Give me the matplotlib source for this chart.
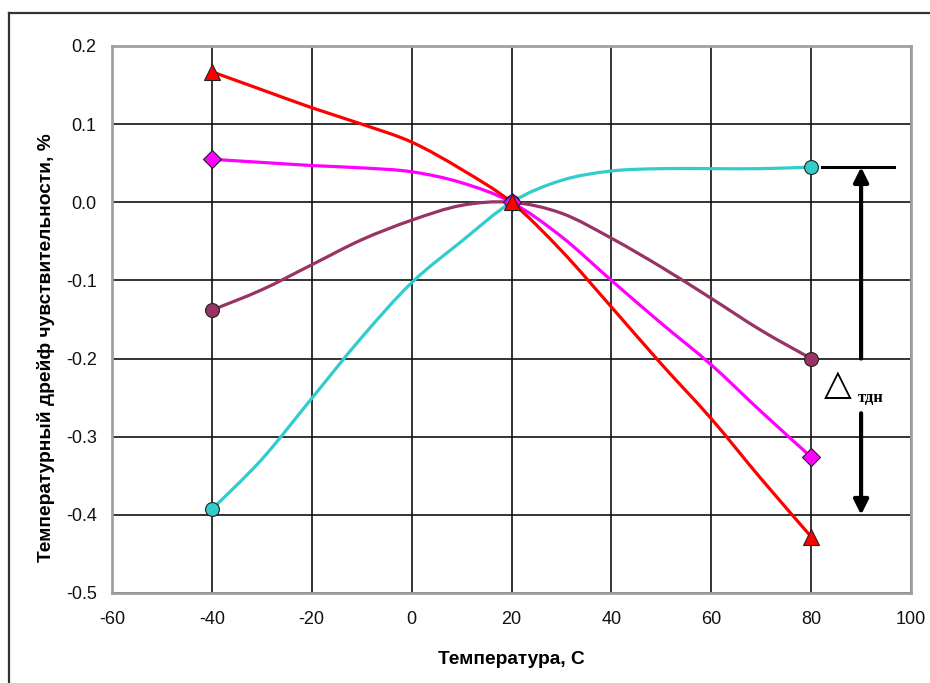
import numpy as np
import matplotlib.pyplot as plt
from matplotlib.path import Path
from matplotlib.patches import PathPatch
from matplotlib.lines import Line2D

plt.rcParams['font.family'] = ['Liberation Sans', 'DejaVu Sans']
plt.rcParams['axes.unicode_minus'] = False

# Температура, C
temp = [-40, -30, -20, -10, 0, 10, 20, 30, 40, 50, 60, 70, 80]
# дрейф чувствительности, %
drift_red = [0.167, 0.144, 0.121, 0.100, 0.077, 0.042, 0.0, -0.062, -0.134, -0.207, -0.277, -0.354, -0.428]
drift_magenta = [0.055, 0.051, 0.047, 0.044, 0.039, 0.025, 0.0, -0.044, -0.100, -0.155, -0.208, -0.268, -0.326]
drift_purple = [-0.138, -0.112, -0.080, -0.048, -0.023, -0.004, 0.0, -0.014, -0.046, -0.083, -0.123, -0.164, -0.200]
drift_cyan = [-0.393, -0.329, -0.251, -0.173, -0.103, -0.050, 0.0, 0.028, 0.040, 0.043, 0.043, 0.043, 0.045]
# точки измерений (с маркерами)
marked = [0, 6, 12]

x_ticks = [-60, -40, -20, 0, 20, 40, 60, 80, 100]
y_ticks = [0.2, 0.1, 0.0, -0.1, -0.2, -0.3, -0.4, -0.5]


def smooth_path(x, y):
    # сглаженная линия как в Excel: кубические Безье через все точки
    p = np.column_stack([x, y]).astype(float)
    ext = np.vstack([p[0], p, p[-1]])
    verts = [p[0]]
    codes = [Path.MOVETO]
    for i in range(len(p) - 1):
        c1 = ext[i + 1] + (ext[i + 2] - ext[i]) / 6
        c2 = ext[i + 2] - (ext[i + 3] - ext[i + 1]) / 6
        verts += [c1, c2, p[i + 1]]
        codes += [Path.CURVE4] * 3
    return Path(verts, codes)


fig = plt.figure(figsize=(9.3, 6.83), dpi=100)
fig.patch.set_facecolor('white')
ax = fig.add_axes([0.1204, 0.1318, 0.8592, 0.8009])

series = [
    (drift_cyan, '#33CCCC', 'o', 10),
    (drift_purple, '#993366', 'o', 10),
    (drift_magenta, '#FF00FF', 'D', 9),
    (drift_red, '#FF0000', '^', 11),
]
for vals, col, mk, ms in series:
    ax.add_patch(PathPatch(smooth_path(temp, vals), facecolor='none',
                           edgecolor=col, lw=2.3, zorder=3))
    ax.plot([temp[i] for i in marked], [vals[i] for i in marked], ls='none',
            marker=mk, ms=ms, mfc=col, mec='#222222', mew=0.8, zorder=4)

ax.set_xlim(-60, 100)
ax.set_ylim(-0.5, 0.2)
ax.set_xticks(x_ticks)
ax.set_yticks(y_ticks)
ax.set_yticklabels([f'{v:.1f}' for v in y_ticks])
ax.tick_params(length=0, labelsize=13, colors='#111111')
ax.tick_params(axis='x', pad=13)
ax.tick_params(axis='y', pad=11)
ax.grid(True, color='#111111', lw=1.2)
ax.set_axisbelow(True)
for s in ax.spines.values():
    s.set_color('#a0a0a0')
    s.set_linewidth(2)

ax.set_xlabel('Температура, С', fontsize=13.8, fontweight='bold')
ax.set_ylabel('Температурный дрейф чувствительности, %', fontsize=13.8,
              fontweight='bold')
ax.xaxis.set_label_coords(0.5, -0.106)
ax.yaxis.set_label_coords(-0.071, 0.448)

# диапазон дрейфа
top = drift_cyan[-1]
ax.plot([82.2, 96.5], [top, top], color='black', lw=2.2, clip_on=False, zorder=5)
ax.annotate('', xy=(90, top), xytext=(90, drift_purple[-1]),
            arrowprops=dict(arrowstyle='-|>', lw=3, color='black', mutation_scale=22,
                            shrinkA=0, shrinkB=0), zorder=5)
ax.annotate('', xy=(90, -0.40), xytext=(90, -0.27),
            arrowprops=dict(arrowstyle='-|>', lw=3, color='black', mutation_scale=22,
                            shrinkA=0, shrinkB=0), zorder=5)
ax.text(82.6, -0.247, '\u25b3', fontsize=26, family='DejaVu Sans',
        ha='left', va='baseline', zorder=5)
ax.text(89.4, -0.256, 'тдн', fontsize=12, family='Liberation Serif',
        fontweight='bold', ha='left', va='baseline', zorder=5)

# рамка рисунка
fig.add_artist(Line2D([9 / 930, 1], [1 - 13 / 683, 1 - 13 / 683], color='#333333', lw=1.6))
fig.add_artist(Line2D([9 / 930, 9 / 930], [0, 1 - 13 / 683], color='#333333', lw=1.6))

fig.savefig('out.png', dpi=100, facecolor='white')
